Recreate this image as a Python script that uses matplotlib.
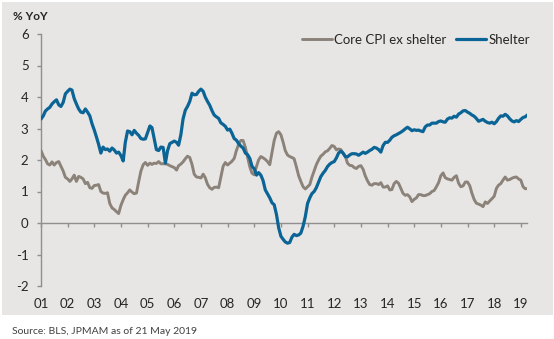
import numpy as np
import pandas as pd
import matplotlib
matplotlib.use("Agg")
from matplotlib import pyplot as plt
from matplotlib.patches import Rectangle

# monthly YoY % change, Jan 2001 - Apr 2019
shelter = [
    3.30, 3.40, 3.55, 3.62, 3.67, 3.78, 3.85, 3.91, 3.75, 3.70, 3.83, 4.10,
    4.18, 4.25, 4.22, 3.95, 3.78, 3.62, 3.52, 3.50, 3.62, 3.52, 3.40, 3.15,
    2.95, 2.72, 2.50, 2.22, 2.41, 2.33, 2.35, 2.28, 2.38, 2.32, 2.22, 2.25,
    2.14, 1.97, 2.56, 2.92, 2.90, 2.80, 2.94, 2.85, 2.78, 2.68, 2.66, 2.67,
    2.88, 3.08, 3.03, 2.67, 2.33, 2.30, 2.41, 2.40, 1.90, 2.30, 2.52, 2.56,
    2.60, 2.56, 2.47, 2.80, 3.30, 3.58, 3.70, 3.86, 4.12, 4.07, 4.08, 4.18,
    4.25, 4.18, 4.00, 3.86, 3.74, 3.57, 3.43, 3.37, 3.32, 3.18, 3.13, 3.07,
    2.95, 2.98, 2.85, 2.68, 2.63, 2.52, 2.44, 2.38, 2.22, 2.17, 2.05, 1.80,
    1.72, 1.52, 1.60, 1.52, 1.35, 1.05, 0.93, 0.80, 0.64, 0.58, 0.27, -0.15,
    -0.42, -0.52, -0.60, -0.64, -0.62, -0.45, -0.36, -0.40, -0.38, -0.32, -0.10, 0.20,
    0.62, 0.80, 0.93, 1.00, 1.12, 1.30, 1.47, 1.58, 1.67, 1.79, 1.87, 1.92,
    1.95, 2.07, 2.22, 2.28, 2.22, 2.11, 2.10, 2.16, 2.20, 2.20, 2.19, 2.15,
    2.20, 2.25, 2.21, 2.25, 2.30, 2.34, 2.40, 2.38, 2.33, 2.25, 2.46, 2.56,
    2.56, 2.63, 2.72, 2.77, 2.80, 2.84, 2.88, 2.93, 2.99, 3.04, 2.99, 2.93,
    2.96, 2.94, 2.95, 2.92, 2.90, 3.05, 3.11, 3.11, 3.17, 3.17, 3.17, 3.22,
    3.24, 3.21, 3.20, 3.30, 3.34, 3.33, 3.39, 3.36, 3.46, 3.50, 3.56, 3.57,
    3.52, 3.48, 3.43, 3.39, 3.32, 3.23, 3.26, 3.29, 3.23, 3.19, 3.17, 3.20,
    3.15, 3.22, 3.32, 3.40, 3.39, 3.45, 3.40, 3.31, 3.24, 3.21, 3.25, 3.22,
    3.29, 3.35, 3.37, 3.43,
]
core_ex_shelter = [
    2.30, 2.12, 2.02, 1.88, 1.84, 1.94, 1.84, 1.92, 1.95, 1.80, 1.65, 1.45,
    1.40, 1.32, 1.40, 1.52, 1.32, 1.48, 1.45, 1.40, 1.25, 1.29, 1.12, 1.10,
    1.19, 1.20, 1.22, 1.00, 0.95, 0.94, 0.96, 0.62, 0.48, 0.43, 0.36, 0.30,
    0.56, 0.74, 0.88, 0.96, 1.05, 0.98, 0.93, 0.95, 1.32, 1.65, 1.85, 1.92,
    1.83, 1.90, 1.86, 1.90, 1.89, 1.95, 1.88, 1.88, 1.88, 1.86, 1.82, 1.79,
    1.76, 1.68, 1.82, 1.87, 1.94, 2.04, 2.12, 2.08, 1.86, 1.55, 1.46, 1.45,
    1.43, 1.55, 1.44, 1.23, 1.12, 1.07, 1.13, 1.14, 1.12, 1.45, 1.80, 1.92,
    1.84, 1.90, 1.96, 2.05, 2.30, 2.50, 2.62, 2.62, 2.40, 2.10, 1.78, 1.58,
    1.53, 1.80, 2.00, 2.11, 2.07, 2.02, 1.95, 1.85, 2.25, 2.62, 2.85, 2.90,
    2.80, 2.56, 2.30, 2.16, 2.11, 2.08, 2.04, 1.78, 1.50, 1.32, 1.15, 1.08,
    1.15, 1.22, 1.45, 1.65, 1.85, 2.00, 2.12, 2.18, 2.26, 2.29, 2.37, 2.46,
    2.43, 2.32, 2.35, 2.33, 2.22, 2.12, 1.90, 1.83, 1.82, 1.76, 1.73, 1.80,
    1.82, 1.70, 1.50, 1.34, 1.22, 1.20, 1.25, 1.25, 1.22, 1.28, 1.14, 1.14,
    1.18, 1.05, 1.06, 1.25, 1.32, 1.26, 1.10, 0.94, 0.88, 0.90, 0.83, 0.68,
    0.75, 0.80, 0.90, 0.90, 0.87, 0.87, 0.90, 0.93, 1.00, 1.03, 1.15, 1.28,
    1.50, 1.59, 1.44, 1.40, 1.38, 1.36, 1.45, 1.50, 1.26, 1.15, 1.18, 1.30,
    1.30, 1.18, 0.95, 0.75, 0.63, 0.60, 0.57, 0.52, 0.67, 0.62, 0.70, 0.77,
    0.85, 1.10, 1.20, 1.25, 1.36, 1.46, 1.36, 1.38, 1.42, 1.45, 1.46, 1.40,
    1.36, 1.15, 1.09, 1.09,
]
dates = pd.date_range("2001-01-01", periods=len(shelter), freq="MS")
year_ticks = pd.date_range("2001-01-01", "2019-01-01", freq="YS")
year_labels = [d.strftime("%y") for d in year_ticks]

plt.rcParams["font.family"] = ["Lato", "DejaVu Sans"]
plt.rcParams["axes.unicode_minus"] = False
axis_grey = "#8f8f8f"
panel = "#e8e6e4"

fig = plt.figure(figsize=(5.54, 3.39), dpi=100, facecolor="white")
W, H = 554, 339
# grey backdrop behind the chart, source line sits below it on white
fig.patches.append(Rectangle((2 / W, 1 - 315 / H), 551 / W, 313 / H,
                             transform=fig.transFigure, facecolor=panel,
                             edgecolor="none", zorder=-10))

ax = fig.add_axes([41 / W, 1 - 286 / H, (527.4 - 41) / W, 252 / H])
ax.set_facecolor("none")

ax.plot(dates, core_ex_shelter, color="#8b8279", lw=2.1,
        label="Core CPI ex shelter", solid_capstyle="round", zorder=3)
ax.plot(dates, shelter, color="#0b6496", lw=2.3,
        label="Shelter", solid_capstyle="round", zorder=4)

ax.set_xlim(dates[0], dates[-1])
ax.set_ylim(-2, 6)
ax.set_yticks(range(-2, 7))
ax.set_xticks(year_ticks)
ax.set_xticklabels(year_labels)

for s in ("top", "right"):
    ax.spines[s].set_visible(False)
ax.spines["bottom"].set_position(("data", 0))
for s in ("bottom", "left"):
    ax.spines[s].set_color(axis_grey)
    ax.spines[s].set_linewidth(1.0)
    ax.spines[s].set_zorder(1)

ax.tick_params(axis="y", length=3, width=1, color=axis_grey, pad=6,
               labelsize=9.5, labelcolor="#262626")
# year labels sit at the bottom of the plot, not under the zero line
ax.tick_params(axis="x", length=3, width=1, color=axis_grey, pad=51,
               labelsize=9.5, labelcolor="#262626")

fig.text(13 / W, 1 - 17 / H, "% YoY", fontsize=8.5, fontweight="bold",
         color="#262626", va="center", ha="left")

ax.legend(loc="center left", bbox_to_anchor=(302 / W, 1 - 39.5 / H),
          bbox_transform=fig.transFigure, ncol=2, frameon=False,
          fontsize=9.5, handlelength=2.3, handletextpad=0.15,
          columnspacing=0.7, borderpad=0, borderaxespad=0,
          labelcolor="#262626")

fig.text(12 / W, 1 - 331 / H, "Source: BLS, JPMAM as of 21 May 2019",
         fontsize=7.5, color="#404040", va="center", ha="left")

fig.savefig("out.png", dpi=100, facecolor="white")
